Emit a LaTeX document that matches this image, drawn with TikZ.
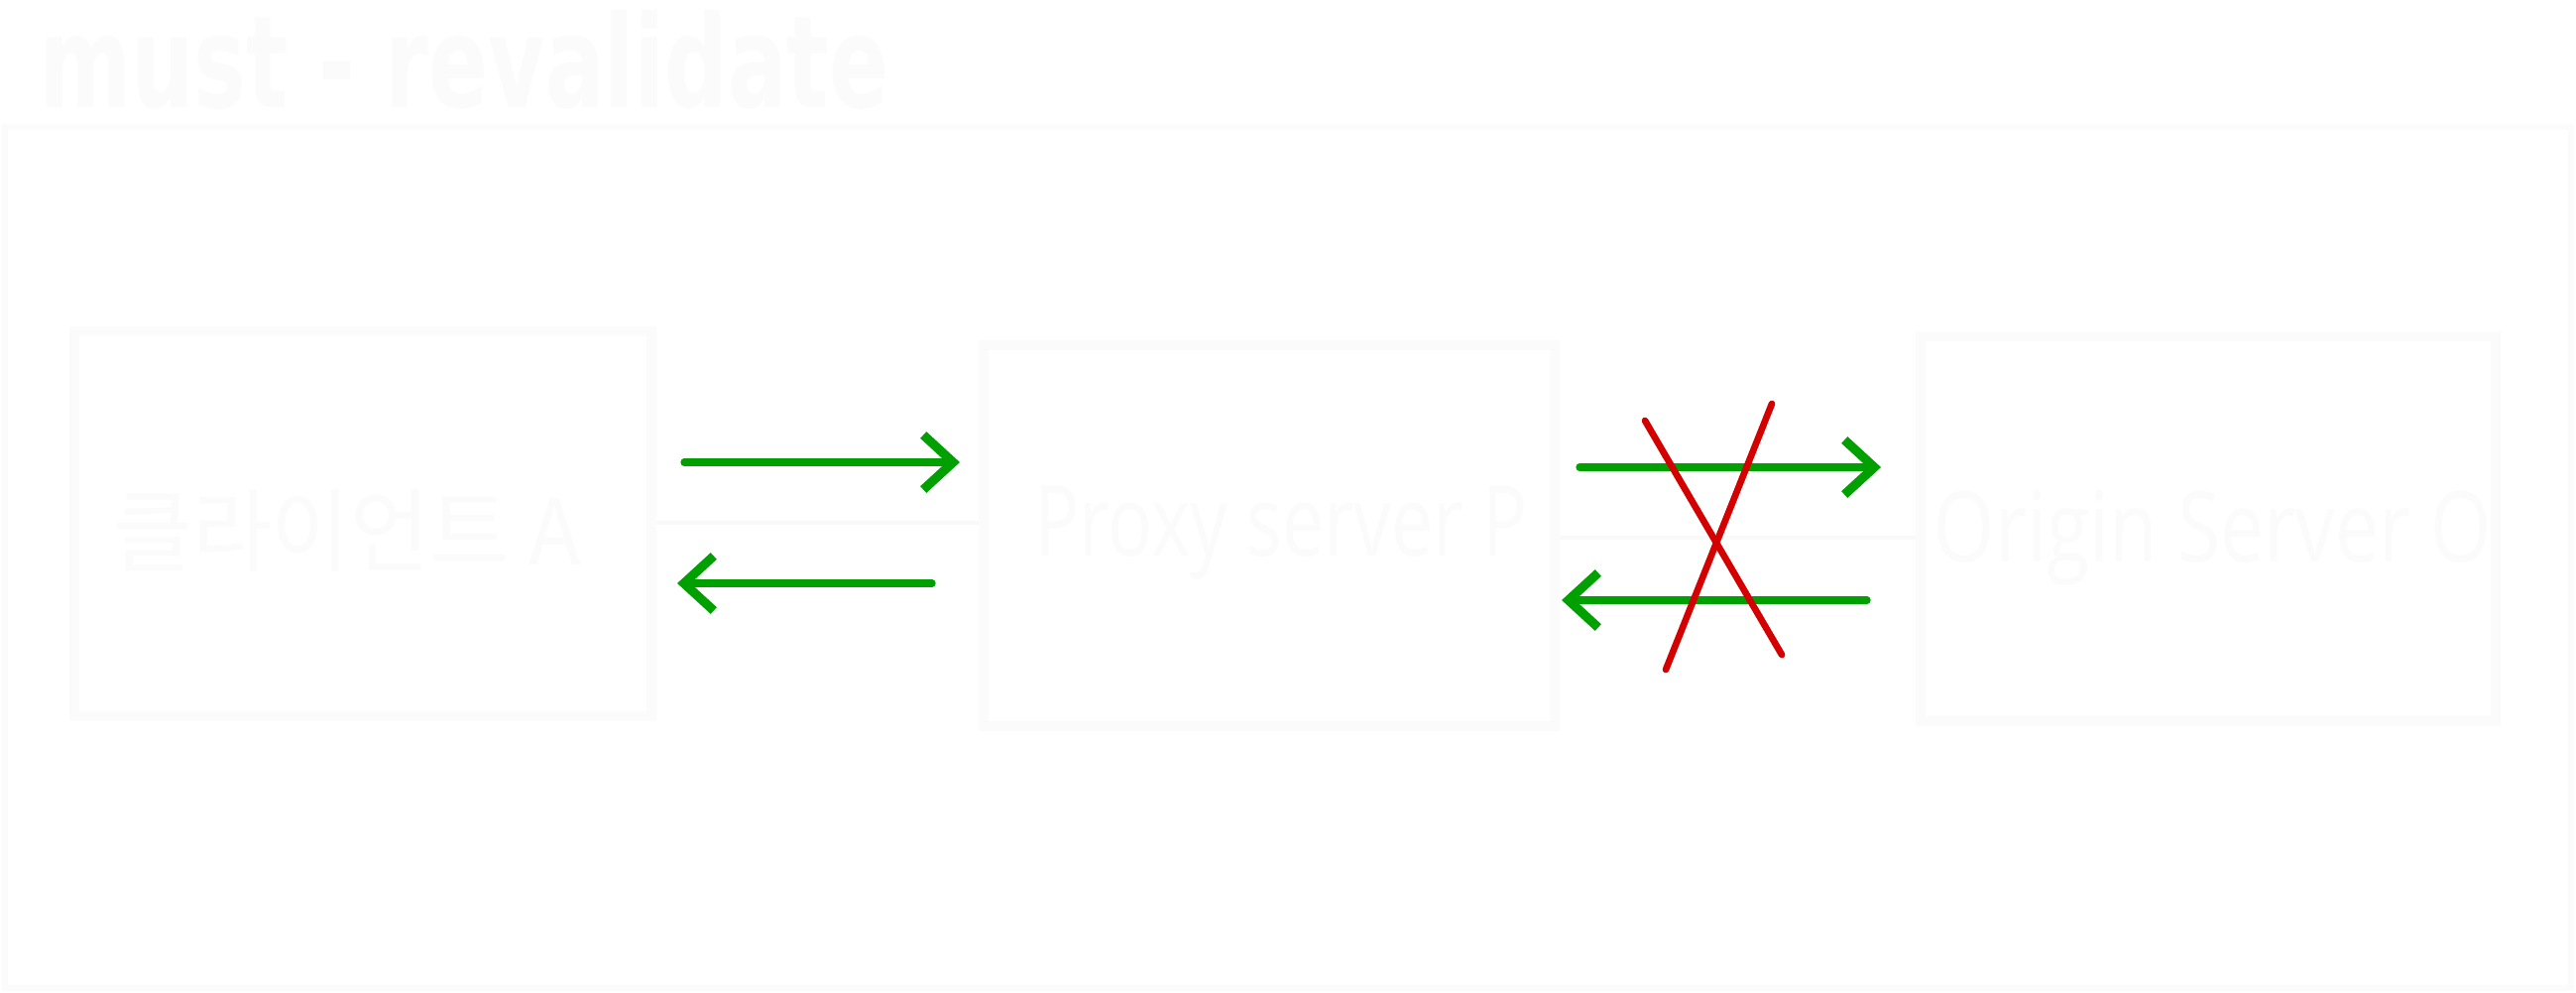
\documentclass[tikz,border=0pt]{standalone}
\usepackage{fontspec}
\setmainfont{Open Sans}
\newfontfamily\krfont{Noto Sans CJK KR}
\newfontfamily\titlefont{DejaVu Sans}
\usetikzlibrary{arrows.meta}
\definecolor{faint}{HTML}{FBFBFB}
\definecolor{faintline}{HTML}{F9F9F9}
\definecolor{garrow}{HTML}{00A000}
\definecolor{rcross}{HTML}{D40000}
\tikzset{
  box/.style={draw=faint, line width=2.8pt, rectangle, inner sep=0pt},
  lbl/.style={text=faint, font=\fontsize{28}{32}\selectfont},
  link/.style={draw=faintline, line width=1.2pt},
  garr/.style={draw=garrow, line width=2.1pt, line cap=round, -{Straight Barb[length=3mm, width=5.5mm, line width=2.6pt]}},
  rx/.style={draw=rcross, line width=1.9pt, line cap=round},
}
\begin{document}
\begin{tikzpicture}[x=0.01cm, y=-0.01cm]
\useasboundingbox (0,0) rectangle (2598,1000);
\fill[white] (0,0) rectangle (2598,1000);
% title
\node[anchor=west, text=faint, font=\titlefont\bfseries\fontsize{34}{38}\selectfont, xscale=0.74, yscale=1.08, inner sep=0pt] (title) at (40,60) {must - revalidate};
% outer frame
\draw[draw=faint, line width=1.8pt] (5,128) rectangle (2593,996);
% boxes
\node[box, minimum width=5.82cm, minimum height=3.87cm] (client) at (366,528) {};
\node[lbl, font=\krfont\fontsize{26}{30}\selectfont, xscale=0.95] (clientlabel) at (350,535) {클라이언트 A};
\node[box, minimum width=5.76cm, minimum height=3.84cm] (proxy) at (1280,540) {};
\node[lbl, xscale=0.76] (proxylabel) at (1292,537) {Proxy server P};
\node[box, minimum width=5.80cm, minimum height=3.87cm] (origin) at (2227,533) {};
\node[lbl, xscale=0.8] (originlabel) at (2232,542) {Origin Server O};
% connectors
\draw[link] (client.east |- 0,527) -- (proxy.west |- 0,527);
\draw[link] (proxy.east |- 0,542) -- (origin.west |- 0,542);
% green arrows
\coordinate (a1s) at (690,466); \coordinate (a1e) at (968,466);
\coordinate (a2s) at (940,588); \coordinate (a2e) at (683,588);
\coordinate (a3s) at (1593,471); \coordinate (a3e) at (1897,471);
\coordinate (a4s) at (1883,605); \coordinate (a4e) at (1575,605);
\draw[garr] (a1s) -- (a1e);
\draw[garr] (a2s) -- (a2e);
\draw[garr] (a3s) -- (a3e);
\draw[garr] (a4s) -- (a4e);
% red cross
\coordinate (r1s) at (1659,424); \coordinate (r1e) at (1797,660);
\coordinate (r2s) at (1787,407); \coordinate (r2e) at (1680,675);
\draw[rx] (r1s) -- (r1e);
\draw[rx] (r2s) -- (r2e);
\end{tikzpicture}
\end{document}
